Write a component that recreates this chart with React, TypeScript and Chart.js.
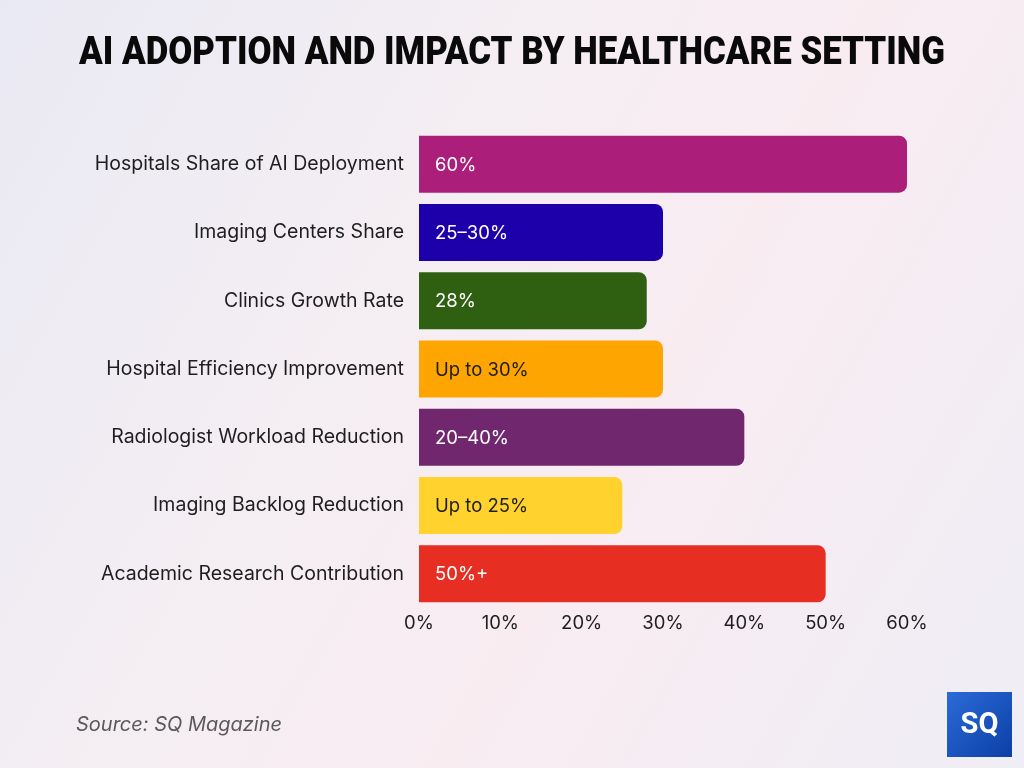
import { useEffect, useRef } from "react";
import { Chart, registerables } from "chart.js";

Chart.register(...registerables);

// Chart content
const titleText = "AI ADOPTION AND IMPACT BY HEALTHCARE SETTING";
const sourceText = "Source: SQ Magazine";
const categories = [
  "Hospitals Share of AI Deployment",
  "Imaging Centers Share",
  "Clinics Growth Rate",
  "Hospital Efficiency Improvement",
  "Radiologist Workload Reduction",
  "Imaging Backlog Reduction",
  "Academic Research Contribution",
];
const values = [60, 30, 28, 30, 40, 25, 50];
const valueLabels = ["60%", "25–30%", "28%", "Up to 30%", "20–40%", "Up to 25%", "50%+"];
const barColors = ["#AB1E79", "#1E00AA", "#2F6012", "#FFA502", "#70276E", "#FFD22E", "#E62E22"];
const valueLabelColors = ["#FFFFFF", "#FFFFFF", "#FFFFFF", "#1E1E1E", "#FFFFFF", "#1E1E1E", "#FFFFFF"];
const axisMin = 0;
const axisMax = 60;
const axisStep = 10;

const labelFont = "Inter";

// Draws the value text inside each bar, near its base
const barValuePlugin = {
  id: "barValues",
  afterDatasetsDraw(chart: any) {
    const { ctx } = chart;
    const meta = chart.getDatasetMeta(0);
    ctx.save();
    ctx.font = `400 18.5px ${labelFont}`;
    ctx.textAlign = "left";
    ctx.textBaseline = "middle";
    meta.data.forEach((bar: any, i: number) => {
      ctx.fillStyle = valueLabelColors[i];
      ctx.fillText(valueLabels[i], bar.base + 16, bar.y + 1);
    });
    ctx.restore();
  },
};

// Title, source line and logo badge
const decorPlugin = {
  id: "decor",
  afterDraw(chart: any) {
    const { ctx } = chart;
    ctx.save();
    // title, fitted to its width
    ctx.font = "900 38px Roboto";
    ctx.fillStyle = "#0A0A0A";
    ctx.textBaseline = "alphabetic";
    ctx.textAlign = "left";
    const w = ctx.measureText(titleText).width;
    const targetW = 866;
    ctx.translate(79, 64);
    ctx.scale(targetW / w, 1);
    ctx.fillText(titleText, 0, 0);
    ctx.restore();

    // source
    ctx.save();
    ctx.font = "italic 400 20px Inter";
    ctx.fillStyle = "#5A5A5A";
    ctx.textBaseline = "alphabetic";
    ctx.fillText(sourceText, 76, 731);
    ctx.restore();

    // logo badge
    ctx.save();
    const x = 947, y = 692, s = 65;
    const g = ctx.createLinearGradient(x, y, x + s, y + s);
    g.addColorStop(0, "#2B6BD8");
    g.addColorStop(1, "#0B3FA6");
    ctx.fillStyle = g;
    ctx.fillRect(x, y, s, s);
    ctx.font = "700 29px Roboto";
    ctx.fillStyle = "#FFFFFF";
    ctx.textAlign = "center";
    ctx.textBaseline = "middle";
    ctx.fillText("SQ", x + s / 2, y + s / 2 + 1);
    ctx.restore();
  },
};

export default function App() {
  const canvasRef = useRef<HTMLCanvasElement | null>(null);

  useEffect(() => {
    if (!canvasRef.current) return;
    const chart = new Chart(canvasRef.current, {
      type: "bar",
      data: {
        labels: categories,
        datasets: [
          {
            data: values,
            backgroundColor: barColors,
            borderRadius: 8,
            borderSkipped: "start",
            categoryPercentage: 1,
            barPercentage: 0.835,
          },
        ],
      },
      options: {
        indexAxis: "y",
        animation: false,
        responsive: false,
        layout: { padding: { left: 0, right: 117, top: 130, bottom: 120 } },
        plugins: {
          legend: { display: false },
          tooltip: { enabled: false },
          title: { display: false },
        },
        scales: {
          x: {
            min: axisMin,
            max: axisMax,
            grid: { display: false, drawTicks: false },
            border: { display: false },
            ticks: {
              stepSize: axisStep,
              padding: 4,
              color: "#1E1E1E",
              font: { family: labelFont, size: 18.5 },
              callback: (v: any) => `${v}%`,
            },
            afterFit: (s: any) => {
              s.height = 40;
            },
          },
          y: {
            grid: { display: false, drawTicks: false },
            border: { display: false },
            ticks: {
              padding: 15,
              color: "#1E1E1E",
              font: { family: labelFont, size: 19.5 },
            },
            afterFit: (s: any) => {
              s.width = 419;
            },
          },
        },
      },
      plugins: [barValuePlugin, decorPlugin],
    });
    return () => chart.destroy();
  }, []);

  return (
    <div
      style={{
        position: "absolute",
        left: 0,
        top: 0,
        width: 1024,
        height: 768,
        background:
          "linear-gradient(120deg, #E9E9F3 0%, #F4EEF3 35%, #F8ECF1 60%, #EFEDF5 100%)",
      }}
    >
      <canvas ref={canvasRef} width={1024} height={768} style={{ display: "block" }} />
    </div>
  );
}
